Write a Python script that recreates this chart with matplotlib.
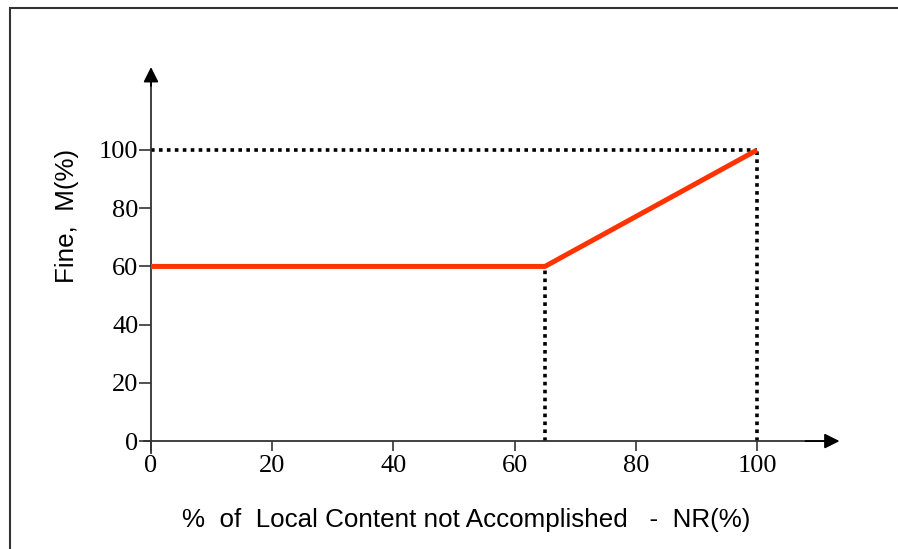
import matplotlib.pyplot as plt
from matplotlib.patches import Rectangle

# Data
nr = [0, 65, 100]          # % of local content not accomplished
fine = [60, 60, 100]       # fine M(%)
x_ticks = [0, 20, 40, 60, 80, 100]
y_ticks = [0, 20, 40, 60, 80, 100]
kink_x, kink_y = 65, 60
end_x, end_y = 100, 100

fig = plt.figure(figsize=(8.98, 5.49), dpi=100)
ax = fig.add_axes([151 / 898, 96 / 549, 694 / 898, 388 / 549])

# outer frame
fig.patches.append(Rectangle((10 / 898, -0.05), 1.2, 1.05 - 8 / 549,
                             transform=fig.transFigure, fill=False,
                             edgecolor='#333333', linewidth=1.5))

ax.set_xlim(0, 114.5)
ax.set_ylim(-4.1, 129.2)

# dotted guide lines
dot = dict(color='black', linestyle=(0, (1, 1.2)), linewidth=2.6)
ax.plot([0, end_x], [end_y, end_y], **dot)
ax.plot([end_x, end_x], [0, end_y], **dot)
ax.plot([kink_x, kink_x], [0, kink_y], **dot)

# fine curve
ax.plot(nr, fine, color='#FF3300', linewidth=3.6, solid_capstyle='butt', zorder=3)

# axes as arrows
for s in ['top', 'right']:
    ax.spines[s].set_visible(False)
ax.spines['left'].set_position(('data', 0))
ax.spines['bottom'].set_position(('data', 0))
ax.spines['left'].set_bounds(-4.1, 126)
ax.spines['bottom'].set_bounds(-1.2, 112)
for s in ['left', 'bottom']:
    ax.spines[s].set_color('#333333')
    ax.spines[s].set_linewidth(1.3)
head = dict(arrowstyle='-|>,head_length=0.9,head_width=0.45',
            color='black', lw=1.3, shrinkA=0, shrinkB=0)
ax.annotate('', xy=(0, 128.5), xytext=(0, 122), arrowprops=head)
ax.annotate('', xy=(113.6, 0), xytext=(108, 0), arrowprops=head)

ax.set_xticks(x_ticks)
ax.set_yticks(y_ticks)
ax.tick_params(axis='both', direction='out', width=1.2, color='#333333', labelsize=19)
ax.tick_params(axis='x', length=7, pad=3)
ax.tick_params(axis='y', length=8.5, pad=0.5)
for lab in ax.get_xticklabels() + ax.get_yticklabels():
    lab.set_family('Liberation Serif')

ax.set_xlabel('%  of  Local Content not Accomplished   -  NR(%)',
              fontsize=18.7, family='Liberation Sans')
ax.xaxis.set_label_coords(0.454, -0.142)
ax.set_ylabel('Fine,  M(%)', fontsize=18.7, family='Liberation Sans')
ax.yaxis.set_label_coords(-0.104, 0.61)

plt.savefig('out.png', dpi=100)
